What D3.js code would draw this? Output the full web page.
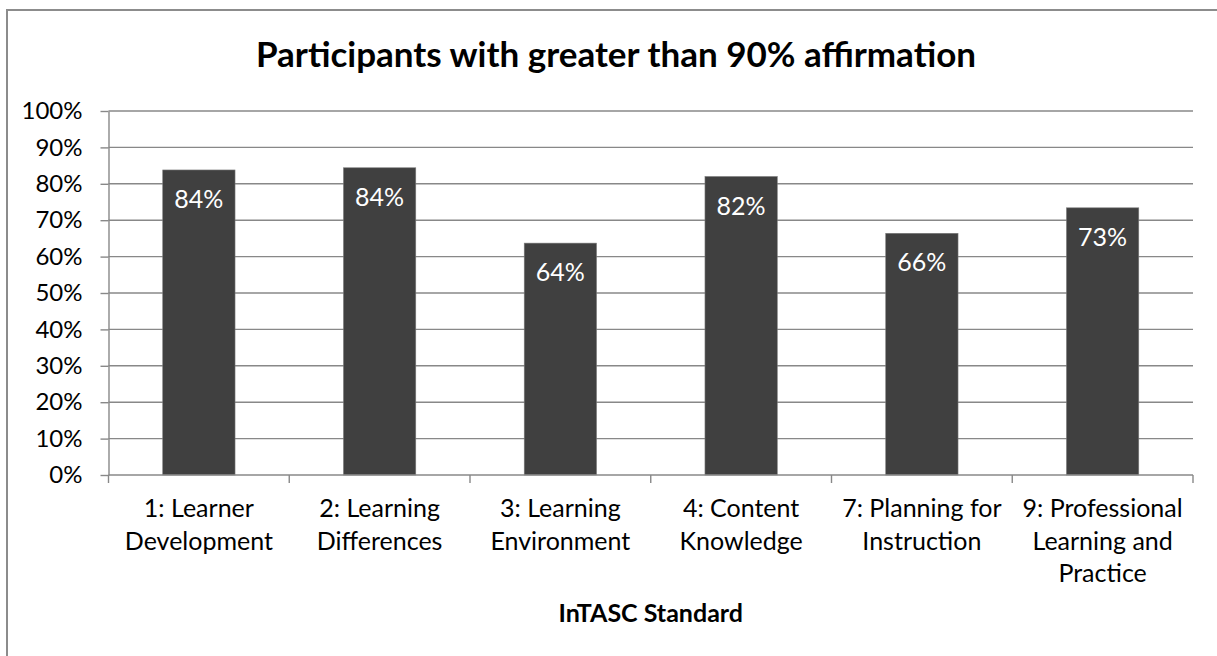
<!DOCTYPE html>
<html>
<head>
<meta charset="utf-8">
<script src="https://cdn.jsdelivr.net/npm/d3@7"></script>
<style>
  body { margin: 0; background: #fff; }
  svg { display: block; font-family: Lato, "Open Sans", sans-serif; }
</style>
</head>
<body>
<svg id="chart" width="1217" height="656"></svg>
<script>
// data
const categories = [
  '1: Learner Development',
  '2: Learning Differences',
  '3: Learning Environment',
  '4: Content Knowledge',
  '7: Planning for Instruction',
  '9: Professional Learning and Practice'
];
const values = [0.838, 0.844, 0.637, 0.820, 0.664, 0.734];
const yTicks = [0, 0.1, 0.2, 0.3, 0.4, 0.5, 0.6, 0.7, 0.8, 0.9, 1.0];

const chartTitle = 'Participants with greater than 90% affirmation';
const xTitle = 'InTASC Standard';

const svg = d3.select('#chart');

// plot area
const plotLeft = 108.5, plotRight = 1193, plotTop = 111, plotBottom = 475;
const gridColor = '#888888';

// outer chart border (runs off the right and bottom edge)
svg.append('rect')
  .attr('x', 7).attr('y', 10)
  .attr('width', 1300).attr('height', 700)
  .attr('fill', '#fff')
  .attr('stroke', '#8c8c8c')
  .attr('stroke-width', 2);

const y = d3.scaleLinear().domain([0, 1]).range([plotBottom, plotTop]);
const x = d3.scaleBand()
  .domain(categories)
  .range([plotLeft, plotRight])
  .paddingInner(0.6)
  .paddingOuter(0.3);

// gridlines
svg.append('g')
  .selectAll('line')
  .data(yTicks.filter(d => d > 0))
  .join('line')
  .attr('x1', plotLeft).attr('x2', plotRight)
  .attr('y1', d => y(d)).attr('y2', d => y(d))
  .attr('stroke', gridColor)
  .attr('stroke-width', 1.4);

// y axis
const yAxis = svg.append('g')
  .attr('transform', `translate(${plotLeft},0)`)
  .call(d3.axisLeft(y).tickValues(yTicks).tickFormat(d3.format('.0%')).tickSize(8).tickSizeOuter(0).tickPadding(18));
yAxis.select('.domain').attr('stroke', gridColor).attr('stroke-width', 1.4);
yAxis.selectAll('.tick line').attr('stroke', gridColor).attr('stroke-width', 1.4);
yAxis.selectAll('.tick text')
  .attr('font-family', 'Lato, sans-serif')
  .attr('font-size', 24)
  .attr('fill', '#000');

// bars
svg.append('g')
  .selectAll('rect')
  .data(values)
  .join('rect')
  .attr('x', (d, i) => x(categories[i]))
  .attr('y', d => y(d))
  .attr('width', x.bandwidth())
  .attr('height', d => y(0) - y(d))
  .attr('fill', '#404040')
  .attr('stroke', '#7a7a7a')
  .attr('stroke-width', 0.6);

// data labels inside end
svg.append('g')
  .selectAll('text')
  .data(values)
  .join('text')
  .attr('x', (d, i) => x(categories[i]) + x.bandwidth() / 2)
  .attr('y', d => y(d) + 38)
  .attr('text-anchor', 'middle')
  .attr('font-size', 25)
  .attr('fill', '#fff')
  .text(d => d3.format('.0%')(d));

// x axis line and ticks at band edges
svg.append('line')
  .attr('x1', plotLeft).attr('x2', plotRight)
  .attr('y1', plotBottom).attr('y2', plotBottom)
  .attr('stroke', gridColor).attr('stroke-width', 1.4);

const step = x.step();
const edges = d3.range(categories.length + 1).map(i => plotLeft + i * step);
svg.append('g')
  .selectAll('line')
  .data(edges)
  .join('line')
  .attr('x1', d => d).attr('x2', d => d)
  .attr('y1', plotBottom).attr('y2', plotBottom + 8)
  .attr('stroke', gridColor).attr('stroke-width', 1.4);

// category labels, wrapped like excel does
const catLabels = svg.append('g')
  .selectAll('text')
  .data(categories)
  .join('text')
  .attr('x', d => x(d) + x.bandwidth() / 2)
  .attr('y', 517)
  .attr('text-anchor', 'middle')
  .attr('font-size', 25)
  .attr('fill', '#000');

catLabels.each(function(d) {
  const t = d3.select(this);
  const cx = +t.attr('x');
  const words = d.split(' ');
  const lines = [];
  let line = [];
  const probe = t.append('tspan');
  words.forEach(w => {
    const test = line.concat(w).join(' ');
    probe.text(test);
    if (probe.node().getComputedTextLength() > step - 6 && line.length) {
      lines.push(line.join(' '));
      line = [w];
    } else {
      line.push(w);
    }
  });
  lines.push(line.join(' '));
  probe.remove();
  lines.forEach((l, i) => {
    t.append('tspan').attr('x', cx).attr('dy', i === 0 ? 0 : 32.5).text(l);
  });
});

// axis title
svg.append('text')
  .attr('x', (plotLeft + plotRight) / 2)
  .attr('y', 622)
  .attr('text-anchor', 'middle')
  .attr('font-size', 25)
  .attr('font-weight', 'bold')
  .text(xTitle);

// chart title
svg.append('text')
  .attr('x', 616)
  .attr('y', 67)
  .attr('text-anchor', 'middle')
  .attr('font-size', 35)
  .attr('font-weight', 'bold')
  .text(chartTitle);
</script>
</body>
</html>
